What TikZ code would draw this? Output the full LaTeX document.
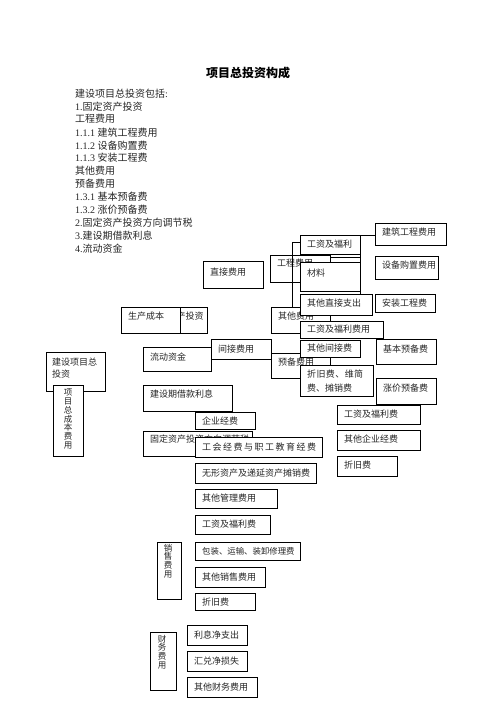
\documentclass[tikz,border=0pt]{standalone}
\usepackage{fontspec}
\setmainfont{Liberation Serif}
\newfontfamily\cjk{Noto Sans CJK SC}
\newcommand{\numtxt}[1]{{\rmfamily #1}}
\tikzset{
  bx/.style={draw=black, fill=white, line width=1pt, rectangle, anchor=north west, inner sep=0pt, outer sep=0pt},
  tx/.style={anchor=west, inner sep=0pt, text=black!85, font=\cjk\fontsize{9}{10}\selectfont},
  lst/.style={anchor=west, inner sep=0pt, text=black!85, font=\cjk\fontsize{10}{12}\selectfont},
  vt/.style={inner sep=0pt, align=center, text=black!85, font=\cjk\fontsize{8.5}{8.8}\selectfont},
  ln/.style={draw=black, line width=1pt},
}
\newcommand{\BoxAt}[7][9.5]{%
  \node[bx, minimum width={(#5-#3)*1pt}, minimum height={(#6-#4)*1pt}] (#2) at (#3,#4) {};
  \node[tx] (#2-t) at (#3+7,#4+#1) {#7};}
\newcommand{\BoxOnly}[5]{%
  \node[bx, minimum width={(#4-#2)*1pt}, minimum height={(#5-#3)*1pt}] (#1) at (#2,#3) {};}
\begin{document}
\begin{tikzpicture}[x=1pt,y=-1pt]
\useasboundingbox (0,0) rectangle (496,702);
% title
\node[inner sep=0pt, font=\cjk\bfseries\fontsize{12}{14}\selectfont] (title) at (248,73) {项目总投资构成};
% list
\node[lst] (l1) at (75,93.3) {建设项目总投资包括\numtxt{:}};
\node[lst] (l2) at (75,106.3) {\numtxt{1.}固定资产投资};
\node[lst] (l3) at (75,119.2) {工程费用};
\node[lst] (l4) at (75,132.2) {\numtxt{1.1.1 }建筑工程费用};
\node[lst] (l5) at (75,145.2) {\numtxt{1.1.2 }设备购置费};
\node[lst] (l6) at (75,158.1) {\numtxt{1.1.3 }安装工程费};
\node[lst] (l7) at (75,171.1) {其他费用};
\node[lst] (l8) at (75,184.1) {预备费用};
\node[lst] (l9) at (75,197.0) {\numtxt{1.3.1 }基本预备费};
\node[lst] (l10) at (75,210.0) {\numtxt{1.3.2 }涨价预备费};
\node[lst] (l11) at (75,223.0) {\numtxt{2.}固定资产投资方向调节税};
\node[lst] (l12) at (75,235.9) {\numtxt{3.}建设期借款利息};
\node[lst] (l13) at (75,248.9) {\numtxt{4.}流动资金};
% boxes, back to front
\BoxOnly{gdzctz}{143}{307}{207}{333}
\node[tx] (gdzctz-t) at (176.5,316) {产投资};
\BoxAt[9]{sccb}{121}{307}{180}{333}{生产成本}
\BoxAt[11]{zjfy}{203}{261}{263}{288}{直接费用}
\BoxAt[8.5]{gcfy}{270}{255}{330}{282}{工程费用}
\BoxAt[9]{gzfl}{300}{235}{360}{254}{工资及福利}
\BoxAt[11]{cl}{300}{262}{360}{291}{材料}
\BoxAt[9]{jzgc}{375}{223}{446}{245}{建筑工程费用}
\BoxAt[9]{sbgz}{375}{256}{438}{279}{设备购置费用}
\BoxAt[9]{azgc}{375}{294}{435}{312}{安装工程费}
\BoxAt[9.5]{qtfy}{271}{307}{330}{333}{其他费用}
\BoxAt[9]{qtzj}{300}{294}{372}{315}{其他直接支出}
\BoxAt[8.5]{gzflfy}{300}{321}{383}{338}{工资及福利费用}
\BoxAt[9]{ybfy}{271}{353}{330}{378}{预备费用}
\BoxAt[8.5]{qtjj}{300}{340}{360}{357}{其他间接费}
\BoxOnly{zjf}{300}{365}{373}{396}
\node[tx] (zjf-t1) at (307,374) {\makebox[56pt][s]{折\hfill 旧\hfill 费\hfill 、\hfill 维\hfill 简}};
\node[tx] (zjf-t2) at (307,388) {费、摊销费};
\BoxAt[10]{jbyb}{376}{339}{436}{364}{基本预备费}
\BoxAt[10]{zjyb}{376}{378}{436}{404}{涨价预备费}
\BoxAt[10]{ldzj}{143}{347}{211}{371}{流动资金}
\BoxAt[10]{jjfy}{211}{339}{271}{359}{间接费用}
\BoxOnly{jsxm}{46}{352}{105}{391}
\node[tx] (jsxm-t1) at (52,362) {\makebox[45pt][s]{建\hfill 设\hfill 项\hfill 目\hfill 总}};
\node[tx] (jsxm-t2) at (52,374) {投资};
\BoxOnly{xmzcb}{53}{385}{83}{456}
\node[vt] (xmzcb-t) at (68,419) {项\\目\\总\\成\\本\\费\\用};
\BoxAt[9]{jsqjk}{143}{385}{232}{411}{建设期借款利息}
\BoxAt[9]{qyjf}{195}{412}{255}{429}{企业经费}
\BoxAt[8]{gdzcfx}{143}{431}{252}{456}{固定资产投资方向调节税}
\BoxOnly{ghjf}{195}{437}{322}{457}
\node[tx] (ghjf-t) at (202,447) {\makebox[114pt][s]{工\hfill 会\hfill 经\hfill 费\hfill 与\hfill 职\hfill 工\hfill 教\hfill 育\hfill 经\hfill 费}};
\BoxAt[9]{gzflf}{337}{405}{420}{424}{工资及福利费}
\BoxAt[9]{qtqyjf}{337}{430}{420}{450}{其他企业经费}
\BoxAt[9]{zjfb}{337}{456}{397}{476}{折旧费}
\BoxAt[10]{wxzc}{195}{463}{316}{483}{无形资产及递延资产摊销费}
\BoxAt[9.5]{qtgl}{195}{489}{277}{508}{其他管理费用}
\BoxAt[9.5]{gzflfb}{195}{515}{270}{534}{工资及福利费}
\BoxOnly{xsfy}{157}{542}{181}{599}
\node[vt] (xsfy-t) at (168,561) {销\\售\\费\\用};
\BoxOnly{bzys}{195}{542}{300}{560}
\node[tx, font=\cjk\fontsize{8.4}{10}\selectfont] (bzys-t) at (202,551) {包装、运输、装卸修理费};
\BoxAt[10]{qtxs}{195}{567}{265}{587}{其他销售费用}
\BoxAt[9]{zjfc}{195}{593}{255}{610}{折旧费}
\BoxOnly{cwfy}{150}{632}{176}{690}
\node[vt] (cwfy-t) at (162,652) {财\\务\\费\\用};
\BoxAt[10]{lxjzc}{187}{625}{247}{645}{利息净支出}
\BoxAt[10]{hdjss}{187}{651}{247}{671}{汇兑净损失}
\BoxAt[10]{qtcw}{187}{677}{257}{697}{其他财务费用}
% connectors
\draw[ln] (gzfl.north east) -- (gzfl.north east -| jzgc.west);
\draw[ln] (gzfl.north east) -- (gzfl.north east |- qtzj.north);
\coordinate (v1) at (292,242);
\draw[ln] (v1 -| gzfl.west) -- (v1) -- (v1 |- qtfy.north);
\draw[ln] ([yshift=-2.5pt]gcfy.north east) -- ([yshift=-2.5pt]gcfy.north east -| cl.east);
\end{tikzpicture}
\end{document}
